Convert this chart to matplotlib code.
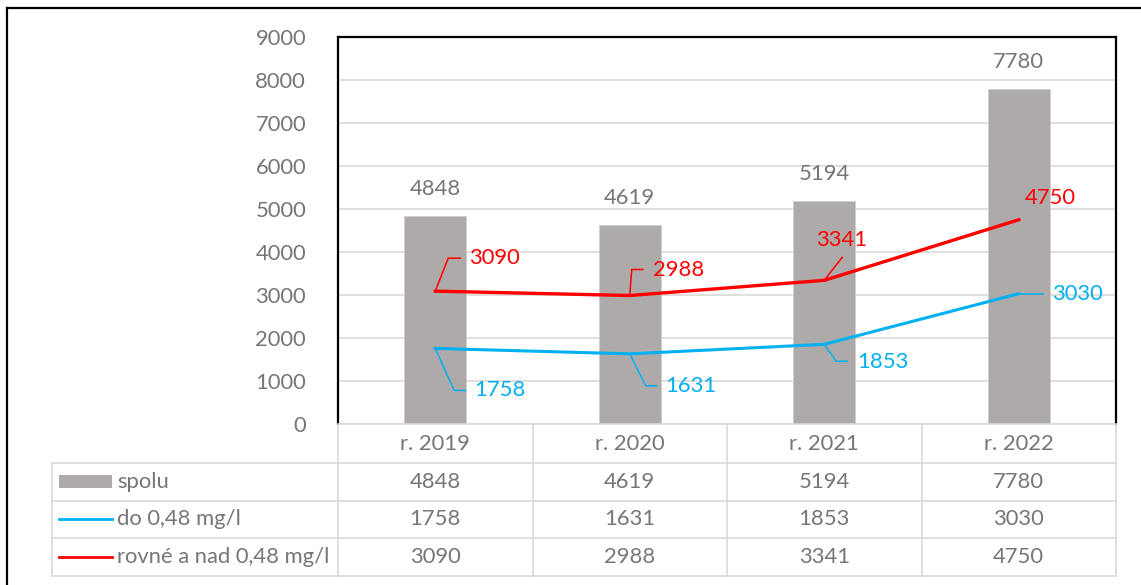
import matplotlib

matplotlib.use("Agg")
import matplotlib.pyplot as plt
import matplotlib.transforms as mtransforms
from matplotlib.lines import Line2D
from matplotlib.patches import Rectangle

plt.rcParams["font.family"] = ["Lato", "DejaVu Sans"]

# data
years = ["r. 2019", "r. 2020", "r. 2021", "r. 2022"]
spolu = [4848, 4619, 5194, 7780]
do_048 = [1758, 1631, 1853, 3030]
nad_048 = [3090, 2988, 3341, 4750]
series_names = ["spolu", "do 0,48 mg/l", "rovné a nad 0,48 mg/l"]

BAR = "#AEAAAA"
BLUE = "#00B0F0"
RED = "#FF0000"
TEXT = "#767676"
GRID = "#D9D9D9"
FS = 15.8

W, H = 1141, 585
fig = plt.figure(figsize=(W / 100, H / 100), dpi=100)


def rect(left, top, right, bottom):
    return [left / W, 1 - bottom / H, (right - left) / W, (bottom - top) / H]


ax = fig.add_axes(rect(338, 37, 1116, 424))
x = list(range(len(years)))

ax.bar(x, spolu, width=0.32, color=BAR, edgecolor="#D0CECE", linewidth=0.6, zorder=2)
ax.plot(x, do_048, color=BLUE, lw=2.2, zorder=3, solid_joinstyle="round")
ax.plot(x, nad_048, color=RED, lw=2.4, zorder=3, solid_joinstyle="round")

for i, v in enumerate(spolu):
    ax.annotate(str(v), (i, v), xytext=(0, 27), textcoords="offset pixels",
                ha="center", va="center", color=TEXT, fontsize=FS)

# label offsets (pixels): leader path, text anchor, horizontal alignment
red_labels = [
    ([(0, 0), (13, 33), (25, 33)], (34, 33), "left"),
    ([(0, 0), (2, 26), (13, 26)], (23, 26), "left"),
    ([(0, 0), (18, 23)], (17, 40), "center"),
    (None, (6, 22), "left"),
]
blue_labels = [
    ([(0, 0), (19, -42), (30, -42)], (39, -42), "left"),
    ([(0, 0), (16, -32), (27, -32)], (35, -32), "left"),
    ([(0, 0), (12, -17), (23, -17)], (33, -18), "left"),
    ([(0, 0), (24, 0)], (33, 0), "left"),
]

for values, labels, color in [(nad_048, red_labels, RED), (do_048, blue_labels, BLUE)]:
    for i, (v, (path, off, ha)) in enumerate(zip(values, labels)):
        if path:
            tr = mtransforms.ScaledTranslation(i, v, ax.transData)
            ax.add_line(Line2D([p[0] for p in path], [p[1] for p in path],
                               transform=tr, color=color, lw=1.1, zorder=4, clip_on=False))
        ax.annotate(str(v), (i, v), xytext=off, textcoords="offset pixels",
                    ha=ha, va="center", color=color, fontsize=FS, zorder=5)

ax.set_xlim(-0.5, 3.5)
ax.set_ylim(0, 9000)
ax.set_yticks(range(0, 9001, 1000))
ax.set_xticks([])
ax.tick_params(axis="y", length=0, pad=23, labelsize=FS, labelcolor=TEXT)
ax.grid(axis="y", color=GRID, lw=1.2, zorder=0)
ax.set_axisbelow(True)
for side in ["left", "top", "right"]:
    ax.spines[side].set_color("black")
    ax.spines[side].set_linewidth(1.6)
ax.spines["bottom"].set_color(GRID)
ax.spines["bottom"].set_linewidth(1.2)

# data table under the chart
tab = fig.add_axes(rect(52, 425, 1116, 576))
left = -0.5 - (338 - 52) / 194.5
tab.set_xlim(left, 3.5)
tab.set_ylim(4, 0)
tab.axis("off")

for c in [-0.5, 0.5, 1.5, 2.5, 3.5]:
    tab.plot([c, c], [0, 4], color=GRID, lw=1.2, clip_on=False)
tab.plot([left, left], [1, 4], color=GRID, lw=1.2, clip_on=False)
for r in [1, 2, 3, 4]:
    tab.plot([left, 3.5], [r, r], color=GRID, lw=1.2, clip_on=False)

for i, name in enumerate(years):
    tab.text(i, 0.5, name, ha="center", va="center", color=TEXT, fontsize=FS)
for r, vals in enumerate([spolu, do_048, nad_048], start=1):
    for i, v in enumerate(vals):
        tab.text(i, r + 0.5, str(v), ha="center", va="center", color=TEXT, fontsize=FS)

lab = mtransforms.blended_transform_factory(tab.transAxes, tab.transData)
sw0, sw1, tx = 7 / 1064, 60 / 1064, 65 / 1064
tab.add_patch(Rectangle((sw0, 1.32), sw1 - sw0, 0.36, transform=lab, color=BAR, lw=0))
tab.add_line(Line2D([sw0, sw1], [2.5, 2.5], transform=lab, color=BLUE, lw=2.0))
tab.add_line(Line2D([sw0, sw1], [3.5, 3.5], transform=lab, color=RED, lw=2.0))
for r, name in enumerate(series_names, start=1):
    tab.text(tx, r + 0.5, name, transform=lab, ha="left", va="center", color=TEXT, fontsize=FS)

# outer chart frame (clipped at right and bottom edges)
fig.add_artist(Line2D([6.5 / W, 6.5 / W], [0, 1 - 7.5 / H], color="black", lw=1.6))
fig.add_artist(Line2D([6.5 / W, 1], [1 - 7.5 / H, 1 - 7.5 / H], color="black", lw=1.6))

fig.savefig("out.png", dpi=100)
